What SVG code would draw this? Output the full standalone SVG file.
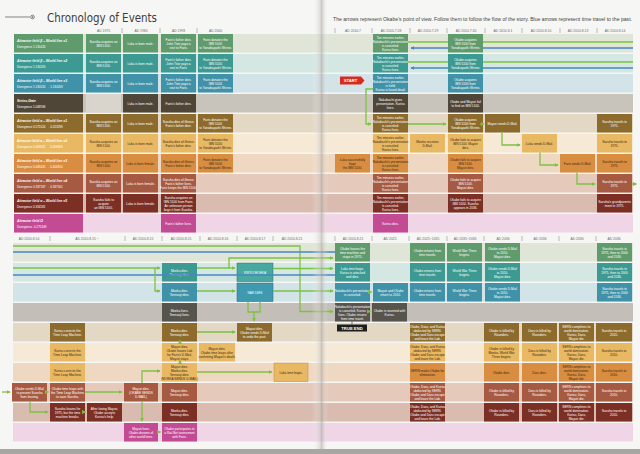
<svg xmlns="http://www.w3.org/2000/svg" width="640" height="454" viewBox="0 0 640 454">
<defs>
<linearGradient id="gut" x1="0" x2="1" y1="0" y2="0">
<stop offset="0" stop-color="#ffffff" stop-opacity="0"/>
<stop offset="0.5" stop-color="#c9c6c0" stop-opacity="0.5"/>
<stop offset="0.6" stop-color="#a7a49f" stop-opacity="0.55"/>
<stop offset="1" stop-color="#ffffff" stop-opacity="0"/>
</linearGradient>
<marker id="ag" viewBox="0 0 6 6" refX="5" refY="3" markerWidth="3.2" markerHeight="3.2" orient="auto"><path d="M0,0 L6,3 L0,6 z" fill="#7cc242"/></marker>
<marker id="ab" viewBox="0 0 6 6" refX="5" refY="3" markerWidth="3.2" markerHeight="3.2" orient="auto"><path d="M0,0 L6,3 L0,6 z" fill="#4a84c4"/></marker>
<style>
.t{font-family:"Liberation Sans",Arial,sans-serif;font-size:3.2px;text-anchor:middle;fill:#ffffff}
.k{fill:#3a2812}
.lb{font-family:"Liberation Sans",Arial,sans-serif;fill:#ffffff}
.l1{font-size:3.4px;font-style:italic;font-weight:bold}
.l2{font-size:3px}
.hd{font-family:"Liberation Sans",Arial,sans-serif;font-size:3.4px;fill:#6a6a6a;text-anchor:middle}
.tk{stroke:#7a7a7a;stroke-width:0.5}
.g{fill:none;stroke:#7cc242;stroke-width:1.3}
.b{fill:none;stroke:#4a84c4;stroke-width:1.3}
.r1{fill:#5f9b6d}.r2{fill:#3c9a93}.r3{fill:#3f92a7}.r4{fill:#4f4637}.r5{fill:#8d6b2d}
.r6{fill:#e8b862}.r7{fill:#d88d40}.r8{fill:#a65a42}.r9{fill:#7c2f24}.r10{fill:#c24b94}
.rg{fill:#57534d}
.b1{fill:#dfe5d7}.b2{fill:#d4e7e3}.b3{fill:#d2e4e8}.b4{fill:#c9c4bb}.b5{fill:#e3d8c4}
.b6{fill:#f6ead6}.b7{fill:#efd8c2}.b8{fill:#e5c9bb}.b9{fill:#d9bcaf}.b10{fill:#efd5e5}
</style>
</defs>

<rect x="0" y="0" width="640" height="454" fill="#f6f6f4"/>

<!-- row stripes, top half -->
<rect class="b1" x="14" y="34" width="619" height="18.5"/>
<rect class="b2" x="14" y="54" width="619" height="18.5"/>
<rect class="b3" x="14" y="74" width="619" height="18.5"/>
<rect class="b4" x="14" y="94" width="619" height="18.5"/>
<rect class="b5" x="14" y="114" width="619" height="18.5"/>
<rect class="b6" x="14" y="134" width="619" height="18.5"/>
<rect class="b7" x="14" y="154" width="619" height="18.5"/>
<rect class="b8" x="14" y="174" width="619" height="18.5"/>
<rect class="b9" x="14" y="194" width="619" height="18.5"/>
<rect class="b10" x="14" y="214" width="619" height="18.5"/>
<rect x="86" y="94" width="35" height="18.5" fill="#d9d5cd"/>
<!-- row stripes, bottom half -->
<rect class="b1" x="13" y="243" width="620" height="18.5"/>
<rect class="b2" x="13" y="263" width="620" height="18.5"/>
<rect class="b3" x="13" y="283" width="620" height="18.5"/>
<rect fill="#c3bfb8" x="13" y="303" width="620" height="18.5"/>
<rect class="b5" x="13" y="323" width="620" height="18.5"/>
<rect class="b6" x="13" y="343" width="620" height="18.5"/>
<rect class="b7" x="13" y="363" width="620" height="18.5"/>
<rect class="b8" x="13" y="383" width="620" height="18.5"/>
<rect class="b9" x="13" y="403" width="620" height="18.5"/>
<rect class="b10" x="13" y="423" width="620" height="18.5"/>

<!-- title and header -->
<g id="title">
<path d="M5,17 H30" stroke="#555" stroke-width="0.7"/>
<circle cx="32.5" cy="17" r="1.8" fill="none" stroke="#555" stroke-width="0.7"/>
<circle cx="32.5" cy="17" r="0.7" fill="#555"/>
<text x="47" y="22" font-family="DejaVu Sans,sans-serif" font-size="12.5" textLength="110" lengthAdjust="spacingAndGlyphs" fill="#3d3d3d">Chronology of Events</text>
</g>
<text x="333" y="21" font-family="Liberation Sans,Arial,sans-serif" font-size="4.6" fill="#444" textLength="299" lengthAdjust="spacingAndGlyphs">The arrows represent Okabe's point of view. Follow them to follow the flow of the story. Blue arrows represent time travel to the past.</text>

<g id="timeline-headers">
<path class="tk" d="M122,28 V33 M160,28 V33 M197,28 V33 M335,28 V33 M372,28 V33 M410,28 V33 M447,28 V33 M485,28 V33 M522,28 V33 M560,28 V33 M597,28 V33"/>
<text class="hd" x="103.5" y="31.5">AD 1975</text>
<text class="hd" x="141" y="31.5">AD 1984</text>
<text class="hd" x="178.5" y="31.5">AD 1998</text>
<text class="hd" x="215.5" y="31.5">AD 2000</text>
<text class="hd" x="353" y="31.5">AD 2010.7</text>
<text class="hd" x="391" y="31.5">AD 2010.7.28</text>
<text class="hd" x="428" y="31.5">AD 2010.7.29</text>
<text class="hd" x="466" y="31.5">AD 2010.7.30</text>
<text class="hd" x="503" y="31.5">AD 2010.8.1</text>
<text class="hd" x="541" y="31.5">AD 2010.8.10</text>
<text class="hd" x="578" y="31.5">AD 2010.8.13</text>
<text class="hd" x="615" y="31.5">AD 2010.8.14</text>
<path class="tk" d="M50,236 V241 M125,236 V241 M162,236 V241 M200,236 V241 M237,236 V241 M273,236 V241 M335,236 V241 M372,236 V241 M409,236 V241 M447,236 V241 M484,236 V241 M522,236 V241 M559,236 V241 M596,236 V241"/>
<text class="hd" x="29" y="239.5">AD 2010.8.14</text>
<text class="hd" x="87" y="239.5">AD 2010.8.15 ~</text>
<text class="hd" x="143" y="239.5">AD 2010.8.15</text>
<text class="hd" x="181" y="239.5">AD 2010.8.15</text>
<text class="hd" x="218" y="239.5">AD 2010.8.16</text>
<text class="hd" x="255" y="239.5">AD 2010.8.17</text>
<text class="hd" x="292" y="239.5">AD 2010.8.21</text>
<text class="hd" x="353" y="239.5">AD 2010.8.21</text>
<text class="hd" x="390" y="239.5">AD 2025</text>
<text class="hd" x="428" y="239.5">AD 2025~2035</text>
<text class="hd" x="465" y="239.5">AD 2035~2036</text>
<text class="hd" x="503" y="239.5">AD 2036</text>
<text class="hd" x="540" y="239.5">AD 2036</text>
<text class="hd" x="577" y="239.5">AD 2036</text>
<text class="hd" x="614" y="239.5">AD 2036</text>
</g>

<!-- row labels -->
<g id="label-beta-x1"><rect class="r1" x="14" y="34" width="69" height="18.5"/><text class="lb" x="17"><tspan class="l1" y="41.5">Attractor field β – World line x1</tspan><tspan class="l2" x="17" y="47.5">Divergence 1.130426</tspan></text></g>
<g id="label-beta-x2"><rect class="r2" x="14" y="54" width="69" height="18.5"/><text class="lb" x="17"><tspan class="l1" y="61.5">Attractor field β – World line x2</tspan><tspan class="l2" x="17" y="67.5">Divergence 1.130205</tspan></text></g>
<g id="label-beta-x3"><rect class="r3" x="14" y="74" width="69" height="18.5"/><text class="lb" x="17"><tspan class="l1" y="81.5">Attractor field β – World line x3</tspan><tspan class="l2" x="17" y="87.5">Divergence 1.130205 → 1.130209</tspan></text></g>
<g id="label-steins-gate"><rect class="r4" x="14" y="94" width="69" height="18.5"/><text class="lb" x="17"><tspan class="l1" y="101.5">Steins;Gate</tspan><tspan class="l2" x="17" y="107.5">Divergence 1.048596</tspan></text></g>
<g id="label-alpha-x1"><rect class="r5" x="14" y="114" width="69" height="18.5"/><text class="lb" x="17"><tspan class="l1" y="121.5">Attractor field α – World line x1</tspan><tspan class="l2" x="17" y="127.5">Divergence 0.571024 → 0.523299</tspan></text></g>
<g id="label-alpha-x2"><rect class="r6" x="14" y="134" width="69" height="18.5"/><text class="lb" x="17"><tspan class="l1" y="141.5">Attractor field α – World line x2</tspan><tspan class="l2" x="17" y="147.5">Divergence 0.409431 → 0.456903</tspan></text></g>
<g id="label-alpha-x3"><rect class="r7" x="14" y="154" width="69" height="18.5"/><text class="lb" x="17"><tspan class="l1" y="161.5">Attractor field α – World line x3</tspan><tspan class="l2" x="17" y="167.5">Divergence 0.409420 → 0.456914</tspan></text></g>
<g id="label-alpha-x4"><rect class="r8" x="14" y="174" width="69" height="18.5"/><text class="lb" x="17"><tspan class="l1" y="181.5">Attractor field α – World line x4</tspan><tspan class="l2" x="17" y="187.5">Divergence 0.337187 → 0.337161</tspan></text></g>
<g id="label-alpha-x5"><rect class="r9" x="14" y="194" width="69" height="18.5"/><text class="lb" x="17"><tspan class="l1" y="201.5">Attractor field α – World line x5</tspan><tspan class="l2" x="17" y="207.5">Divergence 0.334581</tspan></text></g>
<g id="label-omega"><rect class="r10" x="14" y="214" width="69" height="18.5"/><text class="lb" x="17"><tspan class="l1" y="221.5">Attractor field Ω</tspan><tspan class="l2" x="17" y="227.5">Divergence -0.275349</tspan></text></g>

<!-- top-left page nodes -->
<g id="tl-r1-a"><rect class="r1" x="86" y="34" width="35" height="18.5"/><text class="t" x="103.5" y="42.55">Suzuha acquires an<tspan x="103.5" dy="4">IBN 5100.</tspan></text></g>
<g id="tl-r1-b"><rect class="r1" x="123" y="34" width="35" height="18.5"/><text class="t" x="140.5" y="44.55">Luka is born male.</text></g>
<g id="tl-r1-c"><rect class="r1" x="161" y="34" width="35" height="18.5"/><text class="t" x="178.5" y="40.55">Faris's father dies.<tspan x="178.5" dy="4">John Titor pays a</tspan><tspan x="178.5" dy="4">visit to Faris.</tspan></text></g>
<g id="tl-r1-d"><rect class="r1" x="198" y="34" width="35" height="18.5"/><text class="t" x="215.5" y="40.55">Faris donates the<tspan x="215.5" dy="4">IBN 5100</tspan><tspan x="215.5" dy="4">to Yanabayashi Shrine.</tspan></text></g>

<g id="tl-r2-a"><rect class="r2" x="86" y="54" width="35" height="18.5"/><text class="t" x="103.5" y="62.55">Suzuha acquires an<tspan x="103.5" dy="4">IBN 5100.</tspan></text></g>
<g id="tl-r2-b"><rect class="r2" x="123" y="54" width="35" height="18.5"/><text class="t" x="140.5" y="64.55">Luka is born male.</text></g>
<g id="tl-r2-c"><rect class="r2" x="161" y="54" width="35" height="18.5"/><text class="t" x="178.5" y="60.55">Faris's father dies.<tspan x="178.5" dy="4">John Titor pays a</tspan><tspan x="178.5" dy="4">visit to Faris.</tspan></text></g>
<g id="tl-r2-d"><rect class="r2" x="198" y="54" width="35" height="18.5"/><text class="t" x="215.5" y="60.55">Faris donates the<tspan x="215.5" dy="4">IBN 5100</tspan><tspan x="215.5" dy="4">to Yanabayashi Shrine.</tspan></text></g>

<g id="tl-r3-a"><rect class="r3" x="86" y="74" width="35" height="18.5"/><text class="t" x="103.5" y="82.55">Suzuha acquires an<tspan x="103.5" dy="4">IBN 5100.</tspan></text></g>
<g id="tl-r3-b"><rect class="r3" x="123" y="74" width="35" height="18.5"/><text class="t" x="140.5" y="84.55">Luka is born male.</text></g>
<g id="tl-r3-c"><rect class="r3" x="161" y="74" width="35" height="18.5"/><text class="t" x="178.5" y="80.55">Faris's father dies.<tspan x="178.5" dy="4">John Titor pays a</tspan><tspan x="178.5" dy="4">visit to Faris.</tspan></text></g>
<g id="tl-r3-d"><rect class="r3" x="198" y="74" width="35" height="18.5"/><text class="t" x="215.5" y="80.55">Faris donates the<tspan x="215.5" dy="4">IBN 5100</tspan><tspan x="215.5" dy="4">to Yanabayashi Shrine.</tspan></text></g>

<g id="tl-r4-b"><rect class="r4" x="123" y="94" width="35" height="18.5"/><text class="t" x="140.5" y="104.55">Luka is born male.</text></g>
<g id="tl-r4-c"><rect class="r4" x="161" y="94" width="35" height="18.5"/><text class="t" x="178.5" y="104.55">Faris's father dies.</text></g>

<g id="tl-r5-a"><rect class="r5" x="86" y="114" width="35" height="18.5"/><text class="t" x="103.5" y="122.55">Suzuha acquires an<tspan x="103.5" dy="4">IBN 5100.</tspan></text></g>
<g id="tl-r5-b"><rect class="r5" x="123" y="114" width="35" height="18.5"/><text class="t" x="140.5" y="124.55">Luka is born male.</text></g>
<g id="tl-r5-c"><rect class="r5" x="161" y="114" width="35" height="18.5"/><text class="t" x="178.5" y="122.55">Suzuha dies of illness.<tspan x="178.5" dy="4">Faris's father dies.</tspan></text></g>
<g id="tl-r5-d"><rect class="r5" x="198" y="114" width="35" height="18.5"/><text class="t" x="215.5" y="120.55">Faris donates the<tspan x="215.5" dy="4">IBN 5100</tspan><tspan x="215.5" dy="4">to Yanabayashi Shrine.</tspan></text></g>

<g id="tl-r6-a"><rect class="r6" x="86" y="134" width="35" height="18.5"/><text class="t k" x="103.5" y="142.55">Suzuha acquires an<tspan x="103.5" dy="4">IBN 5100.</tspan></text></g>
<g id="tl-r6-b"><rect class="r6" x="123" y="134" width="35" height="18.5"/><text class="t k" x="140.5" y="144.55">Luka is born male.</text></g>
<g id="tl-r6-c"><rect class="r6" x="161" y="134" width="35" height="18.5"/><text class="t k" x="178.5" y="142.55">Suzuha dies of illness.<tspan x="178.5" dy="4">Faris's father dies.</tspan></text></g>
<g id="tl-r6-d"><rect class="r6" x="198" y="134" width="35" height="18.5"/><text class="t k" x="215.5" y="140.55">Faris donates the<tspan x="215.5" dy="4">IBN 5100</tspan><tspan x="215.5" dy="4">to Yanabayashi Shrine.</tspan></text></g>

<g id="tl-r7-a"><rect class="r7" x="86" y="154" width="35" height="18.5"/><text class="t k" x="103.5" y="162.55">Suzuha acquires an<tspan x="103.5" dy="4">IBN 5100.</tspan></text></g>
<g id="tl-r7-b"><rect class="r7" x="123" y="154" width="35" height="18.5"/><text class="t k" x="140.5" y="164.55">Luka is born female.</text></g>
<g id="tl-r7-c"><rect class="r7" x="161" y="154" width="35" height="18.5"/><text class="t k" x="178.5" y="162.55">Suzuha dies of illness.<tspan x="178.5" dy="4">Faris's father dies.</tspan></text></g>
<g id="tl-r7-d"><rect class="r7" x="198" y="154" width="35" height="18.5"/><text class="t k" x="215.5" y="160.55">Faris donates the<tspan x="215.5" dy="4">IBN 5100</tspan><tspan x="215.5" dy="4">to Yanabayashi Shrine.</tspan></text></g>

<g id="tl-r8-a"><rect class="r8" x="86" y="174" width="35" height="18.5"/><text class="t" x="103.5" y="182.55">Suzuha acquires an<tspan x="103.5" dy="4">IBN 5100.</tspan></text></g>
<g id="tl-r8-b"><rect class="r8" x="123" y="174" width="35" height="18.5"/><text class="t" x="140.5" y="184.55">Luka is born female.</text></g>
<g id="tl-r8-c"><rect class="r8" x="161" y="174" width="35" height="18.5"/><text class="t" x="178.5" y="180.55">Suzuha dies of illness.<tspan x="178.5" dy="4">Faris's father lives.</tspan><tspan x="178.5" dy="4">Faris keeps the IBN 5100.</tspan></text></g>

<g id="tl-r9-a"><rect class="r9" x="86" y="194" width="35" height="18.5"/><text class="t" x="103.5" y="200.55">Suzuha fails to<tspan x="103.5" dy="4">acquire</tspan><tspan x="103.5" dy="4">an IBN 5100.</tspan></text></g>
<g id="tl-r9-b"><rect class="r9" x="123" y="194" width="35" height="18.5"/><text class="t" x="140.5" y="204.55">Luka is born female.</text></g>
<g id="tl-r9-c"><rect class="r9" x="161" y="194" width="35" height="18.5"/><text class="t" x="178.5" y="198.55">Suzuha acquires an<tspan x="178.5" dy="4">IBN 5100 from Faris.</tspan><tspan x="178.5" dy="4">An unknown person</tspan><tspan x="178.5" dy="4">buys it from Suzuha.</tspan></text></g>

<g id="tl-r10-c"><rect class="r10" x="161" y="214" width="35" height="18.5"/><text class="t" x="178.5" y="224.55">Faris's father lives.</text></g>

<!-- top-right page nodes -->
<g id="start"><path d="M340,76.5 H361 L364.5,80.5 L361,84.5 H340 Z" fill="#d92a22"/><text x="350.5" y="82.1" font-family="Liberation Sans,Arial,sans-serif" font-size="4.2" font-weight="bold" fill="#fff" text-anchor="middle">START</text></g>

<g id="tr-r1-c2"><rect class="r1" x="373" y="34" width="35" height="18.5"/><text class="t" x="390.5" y="38.55">Ten minutes earlier,<tspan x="390.5" dy="4">Nakabachi's presentation</tspan><tspan x="390.5" dy="4">is canceled.</tspan><tspan x="390.5" dy="4">Kurisu lives.</tspan></text></g>
<g id="tr-r1-c4"><rect class="r1" x="448" y="34" width="35" height="18.5"/><text class="t" x="465.5" y="40.55">Okabe acquires<tspan x="465.5" dy="4">IBN 5100 from</tspan><tspan x="465.5" dy="4">Yanabayashi Shrine.</tspan></text></g>
<g id="tr-r2-c2"><rect class="r2" x="373" y="54" width="35" height="18.5"/><text class="t" x="390.5" y="58.55">Ten minutes earlier,<tspan x="390.5" dy="4">Nakabachi's presentation</tspan><tspan x="390.5" dy="4">is canceled.</tspan><tspan x="390.5" dy="4">Kurisu lives.</tspan></text></g>
<g id="tr-r2-c4"><rect class="r2" x="448" y="54" width="35" height="18.5"/><text class="t" x="465.5" y="60.55">Okabe acquires<tspan x="465.5" dy="4">IBN 5100 from</tspan><tspan x="465.5" dy="4">Yanabayashi Shrine.</tspan></text></g>
<g id="tr-r3-c2"><rect class="r3" x="373" y="74" width="35" height="18.5"/><text class="t" x="390.5" y="78.55">Ten minutes earlier,<tspan x="390.5" dy="4">Nakabachi's presentation</tspan><tspan x="390.5" dy="4">is held.</tspan><tspan x="390.5" dy="4">Kurisu is found dead.</tspan></text></g>
<g id="tr-r3-c4"><rect class="r3" x="448" y="74" width="35" height="18.5"/><text class="t" x="465.5" y="80.55">Okabe acquires<tspan x="465.5" dy="4">IBN 5100 from</tspan><tspan x="465.5" dy="4">Yanabayashi Shrine.</tspan></text></g>
<g id="tr-r4-c2"><rect class="r4" x="373" y="94" width="35" height="18.5"/><text class="t" x="390.5" y="100.55">Nakabachi gives<tspan x="390.5" dy="4">presentation. Kurisu</tspan><tspan x="390.5" dy="4">lives.</tspan></text></g>
<g id="tr-r4-c4"><rect class="r4" x="448" y="94" width="35" height="18.5"/><text class="t" x="465.5" y="102.55">Okabe and Mayuri fail<tspan x="465.5" dy="4">to find an IBN 5100.</tspan></text></g>
<g id="tr-r5-c2"><rect class="r5" x="373" y="114" width="35" height="18.5"/><text class="t" x="390.5" y="118.55">Ten minutes earlier,<tspan x="390.5" dy="4">Nakabachi's presentation</tspan><tspan x="390.5" dy="4">is canceled.</tspan><tspan x="390.5" dy="4">Kurisu lives.</tspan></text></g>
<g id="tr-r5-c4"><rect class="r5" x="448" y="114" width="35" height="18.5"/><text class="t" x="465.5" y="120.55">Okabe acquires<tspan x="465.5" dy="4">IBN 5100 from</tspan><tspan x="465.5" dy="4">Yanabayashi Shrine.</tspan></text></g>
<g id="tr-r5-c5"><rect class="r5" x="485" y="114" width="35" height="18.5"/><text class="t" x="502.5" y="124.55">Mayuri sends D-Mail.</text></g>
<g id="tr-r5-c8"><rect class="r5" x="597" y="114" width="35" height="18.5"/><text class="t" x="614.5" y="122.55">Suzuha travels to<tspan x="614.5" dy="4">1975.</tspan></text></g>
<g id="tr-r6-c2"><rect class="r6" x="373" y="134" width="35" height="18.5"/><text class="t k" x="390.5" y="138.55">Ten minutes earlier,<tspan x="390.5" dy="4">Nakabachi's presentation</tspan><tspan x="390.5" dy="4">is canceled.</tspan><tspan x="390.5" dy="4">Kurisu lives.</tspan></text></g>
<g id="tr-r6-c3"><rect class="r6" x="410" y="134" width="35" height="18.5"/><text class="t k" x="427.5" y="142.55">Moeka receives<tspan x="427.5" dy="4">D-Mail.</tspan></text></g>
<g id="tr-r6-c4"><rect class="r6" x="448" y="134" width="35" height="18.5"/><text class="t k" x="465.5" y="140.55">Okabe fails to acquire<tspan x="465.5" dy="4">IBN 5100. Mayuri</tspan><tspan x="465.5" dy="4">dies.</tspan></text></g>
<g id="tr-r6-c6"><rect class="r6" x="522" y="134" width="35" height="18.5"/><text class="t k" x="539.5" y="144.55">Luka sends D-Mail.</text></g>
<g id="tr-r6-c8"><rect class="r6" x="597" y="134" width="35" height="18.5"/><text class="t k" x="614.5" y="142.55">Suzuha travels to<tspan x="614.5" dy="4">1975.</tspan></text></g>
<g id="tr-r7-c1"><rect class="r7" x="335" y="154" width="35" height="18.5"/><text class="t k" x="352.5" y="160.55">Luka successfully<tspan x="352.5" dy="4">buys</tspan><tspan x="352.5" dy="4">the IBN 5100.</tspan></text></g>
<g id="tr-r7-c2"><rect class="r7" x="373" y="154" width="35" height="18.5"/><text class="t k" x="390.5" y="158.55">Ten minutes earlier,<tspan x="390.5" dy="4">Nakabachi's presentation</tspan><tspan x="390.5" dy="4">is canceled.</tspan><tspan x="390.5" dy="4">Kurisu lives.</tspan></text></g>
<g id="tr-r7-c4"><rect class="r7" x="448" y="154" width="35" height="18.5"/><text class="t k" x="465.5" y="160.55">Okabe fails to acquire<tspan x="465.5" dy="4">IBN 5100.</tspan><tspan x="465.5" dy="4">Mayuri dies.</tspan></text></g>
<g id="tr-r7-c7"><rect class="r7" x="560" y="154" width="35" height="18.5"/><text class="t k" x="577.5" y="164.55">Faris sends D-Mail.</text></g>
<g id="tr-r7-c8"><rect class="r7" x="597" y="154" width="35" height="18.5"/><text class="t k" x="614.5" y="162.55">Suzuha travels to<tspan x="614.5" dy="4">1975.</tspan></text></g>
<g id="tr-r8-c2"><rect class="r8" x="373" y="174" width="35" height="18.5"/><text class="t" x="390.5" y="178.55">Ten minutes earlier,<tspan x="390.5" dy="4">Nakabachi's presentation</tspan><tspan x="390.5" dy="4">is canceled.</tspan><tspan x="390.5" dy="4">Kurisu lives.</tspan></text></g>
<g id="tr-r8-c4"><rect class="r8" x="448" y="174" width="35" height="18.5"/><text class="t" x="465.5" y="180.55">Okabe fails to acquire<tspan x="465.5" dy="4">IBN 5100.</tspan><tspan x="465.5" dy="4">Mayuri dies.</tspan></text></g>
<g id="tr-r8-c8"><rect class="r8" x="597" y="174" width="35" height="18.5"/><text class="t" x="614.5" y="182.55">Suzuha travels to<tspan x="614.5" dy="4">1975.</tspan></text></g>
<g id="tr-r9-c2"><rect class="r9" x="373" y="194" width="35" height="18.5"/><text class="t" x="390.5" y="198.55">Ten minutes earlier,<tspan x="390.5" dy="4">Nakabachi's presentation</tspan><tspan x="390.5" dy="4">is canceled.</tspan><tspan x="390.5" dy="4">Kurisu lives.</tspan></text></g>
<g id="tr-r9-c4"><rect class="r9" x="448" y="194" width="35" height="18.5"/><text class="t" x="465.5" y="200.55">Okabe fails to acquire<tspan x="465.5" dy="4">IBN 5100. Suzuha</tspan><tspan x="465.5" dy="4">appears in 2036.</tspan></text></g>
<g id="tr-r9-c8"><rect class="r9" x="597" y="194" width="35" height="18.5"/><text class="t" x="614.5" y="202.55">Suzuha's grandparents<tspan x="614.5" dy="4">meet in 1975.</tspan></text></g>
<g id="tr-r10-c2"><rect class="r10" x="373" y="214" width="35" height="18.5"/><text class="t" x="390.5" y="224.55">Kurisu dies.</text></g>

<!-- bottom-left page nodes -->
<g id="bl-r2-b5"><rect class="r2" x="162" y="263" width="35" height="18.5"/><text class="t" x="179.5" y="271.55">Moeka dies.<tspan x="179.5" dy="4">Tennouji dies.</tspan></text></g>
<g id="bl-r2-b7"><rect fill="#47a9a0" stroke="#2d6e68" stroke-width="0.5" x="237" y="263" width="36" height="18.5"/><text class="t" x="255" y="273.55">KIRYU MOEKA</text></g>
<g id="bl-r3-b5"><rect class="r3" x="162" y="283" width="35" height="18.5"/><text class="t" x="179.5" y="291.55">Moeka dies.<tspan x="179.5" dy="4">Tennouji dies.</tspan></text></g>
<g id="bl-r3-b7"><rect fill="#3f9ab0" stroke="#2a6574" stroke-width="0.5" x="237" y="283" width="36" height="18.5"/><text class="t" x="255" y="293.55">NAE DIES</text></g>
<g id="bl-r4-b5"><rect class="rg" x="162" y="303" width="35" height="18.5"/><text class="t" x="179.5" y="311.55">Moeka lives.<tspan x="179.5" dy="4">Tennouji lives.</tspan></text></g>

<g id="bl-r5-b2"><rect class="r5" x="50" y="323" width="35" height="18.5"/><text class="t" x="67.5" y="331.55">Kurisu corrects the<tspan x="67.5" dy="4">Time Leap Machine.</tspan></text></g>
<g id="bl-r5-b5"><rect class="r5" x="162" y="323" width="35" height="18.5"/><text class="t" x="179.5" y="331.55">Moeka dies.<tspan x="179.5" dy="4">Tennouji dies.</tspan></text></g>
<g id="bl-r5-b7"><rect class="r5" x="237" y="323" width="35" height="18.5"/><text class="t" x="254.5" y="329.55">Mayuri dies.<tspan x="254.5" dy="4">Okabe sends D-Mail</tspan><tspan x="254.5" dy="4">to undo the past.</tspan></text></g>

<g id="bl-r6-b2"><rect class="r6" x="50" y="343" width="35" height="18.5"/><text class="t k" x="67.5" y="351.55">Kurisu corrects the<tspan x="67.5" dy="4">Time Leap Machine.</tspan></text></g>
<g id="bl-r6-b5"><rect class="r6" x="162" y="343" width="35" height="18.5"/><text class="t k" x="179.5" y="347.55">Mayuri dies.<tspan x="179.5" dy="4">Okabe leaves Lab</tspan><tspan x="179.5" dy="4">for Faris's D-Mail.</tspan><tspan x="179.5" dy="4">Mayuri stays.</tspan></text></g>
<g id="bl-r6-b6"><rect class="r6" x="199" y="343" width="36" height="18.5"/><text class="t k" x="217" y="349.55">Mayuri dies.<tspan x="217" dy="4">Okabe time leaps after</tspan><tspan x="217" dy="4">confirming Mayuri's death.</tspan></text></g>

<g id="bl-r7-b2"><rect class="r6" x="50" y="363" width="35" height="18.5"/><text class="t k" x="67.5" y="371.55">Kurisu corrects the<tspan x="67.5" dy="4">Time Leap Machine.</tspan></text></g>
<g id="bl-r7-b5"><rect class="r6" x="162" y="363" width="35" height="18.5"/><text class="t k" x="179.5" y="367.55">Mayuri dies.<tspan x="179.5" dy="4">Moeka dies.</tspan><tspan x="179.5" dy="4">Tennouji dies.</tspan><tspan x="179.5" dy="4">(MOEKA SENDS D-MAIL)</tspan></text></g>
<g id="bl-r7-b8"><rect class="r6" x="274" y="363" width="34" height="18.5" stroke="#b88a3a" stroke-width="0.5"/><text class="t k" x="291" y="373.55">Luka time leaps.</text></g>

<g id="bl-r8-b1"><rect class="r8" x="12" y="383" width="35" height="18.5"/><text class="t" x="29.5" y="389.55">Okabe sends D-Mail<tspan x="29.5" dy="4">to prevent Suzuha</tspan><tspan x="29.5" dy="4">from leaving.</tspan></text></g>
<g id="bl-r8-b2"><rect class="r8" x="50" y="383" width="35" height="18.5"/><text class="t" x="67.5" y="389.55">Okabe time leaps with<tspan x="67.5" dy="4">the Time Leap Machine</tspan><tspan x="67.5" dy="4">to save Suzuha.</tspan></text></g>
<g id="bl-r8-b4"><rect class="r8" x="124" y="383" width="34" height="18.5"/><text class="t" x="141" y="389.55">Mayuri dies.<tspan x="141" dy="4">(OKABE SENDS</tspan><tspan x="141" dy="4">D-MAIL)</tspan></text></g>
<g id="bl-r8-b5"><rect class="r8" x="162" y="383" width="35" height="18.5"/><text class="t" x="179.5" y="391.55">Mayuri dies.<tspan x="179.5" dy="4">Tennouji dies.</tspan></text></g>

<g id="bl-r9-b2"><rect class="r9" x="50" y="403" width="35" height="18.5"/><text class="t" x="67.5" y="409.55">Suzuha leaves for<tspan x="67.5" dy="4">1975, but the time</tspan><tspan x="67.5" dy="4">machine breaks.</tspan></text></g>
<g id="bl-r9-b3"><rect class="r9" x="87" y="403" width="35" height="18.5"/><text class="t" x="104.5" y="409.55">After losing Mayuri,<tspan x="104.5" dy="4">Okabe accepts</tspan><tspan x="104.5" dy="4">Kurisu's help.</tspan></text></g>
<g id="bl-r9-b5"><rect class="r9" x="162" y="403" width="35" height="18.5"/><text class="t" x="179.5" y="411.55">Moeka dies.<tspan x="179.5" dy="4">Tennouji dies.</tspan></text></g>

<g id="bl-r10-b4"><rect class="r10" x="124" y="423" width="34" height="18.5"/><text class="t" x="141" y="429.55">Mayuri lives.<tspan x="141" dy="4">Okabe dreams of</tspan><tspan x="141" dy="4">other world lines.</tspan></text></g>
<g id="bl-r10-b5"><rect class="r10" x="162" y="423" width="35" height="18.5"/><text class="t" x="179.5" y="429.55">Okabe participates in<tspan x="179.5" dy="4">a Rai-Net tournament</tspan><tspan x="179.5" dy="4">with Faris.</tspan></text></g>

<!-- bottom-right page nodes -->
<g id="br-r1-c1"><rect class="r1" x="335" y="243" width="35" height="18.5"/><text class="t" x="352.5" y="249.55">Okabe leaves the<tspan x="352.5" dy="4">time machine and</tspan><tspan x="352.5" dy="4">stays in 1975.</tspan></text></g>
<g id="br-r1-c3"><rect class="r1" x="410" y="243" width="35" height="18.5"/><text class="t" x="427.5" y="251.55">Okabe returns from<tspan x="427.5" dy="4">time travels.</tspan></text></g>
<g id="br-r1-c4"><rect class="r1" x="447" y="243" width="35" height="18.5"/><text class="t" x="464.5" y="251.55">World War Three<tspan x="464.5" dy="4">begins.</tspan></text></g>
<g id="br-r1-c5"><rect class="r1" x="485" y="243" width="35" height="18.5"/><text class="t" x="502.5" y="249.55">Okabe sends D-Mail<tspan x="502.5" dy="4">to 2010.</tspan><tspan x="502.5" dy="4">Mayuri dies.</tspan></text></g>
<g id="br-r1-c8"><rect class="r1" x="597" y="243" width="35" height="18.5"/><text class="t" x="614.5" y="249.55">Suzuha travels to<tspan x="614.5" dy="4">1975, then to 2000</tspan><tspan x="614.5" dy="4">and 2036.</tspan></text></g>

<g id="br-r2-c1"><rect class="r2" x="335" y="263" width="35" height="18.5"/><text class="t" x="352.5" y="269.55">Luka time leaps.<tspan x="352.5" dy="4">Kurisu is attacked</tspan><tspan x="352.5" dy="4">and dies.</tspan></text></g>
<g id="br-r2-c3"><rect class="r2" x="410" y="263" width="35" height="18.5"/><text class="t" x="427.5" y="271.55">Okabe returns from<tspan x="427.5" dy="4">time travels.</tspan></text></g>
<g id="br-r2-c4"><rect class="r2" x="447" y="263" width="35" height="18.5"/><text class="t" x="464.5" y="271.55">World War Three<tspan x="464.5" dy="4">begins.</tspan></text></g>
<g id="br-r2-c5"><rect class="r2" x="485" y="263" width="35" height="18.5"/><text class="t" x="502.5" y="269.55">Okabe sends D-Mail<tspan x="502.5" dy="4">to 2010.</tspan><tspan x="502.5" dy="4">Mayuri dies.</tspan></text></g>
<g id="br-r2-c8"><rect class="r2" x="597" y="263" width="35" height="18.5"/><text class="t" x="614.5" y="269.55">Suzuha travels to<tspan x="614.5" dy="4">1975, then to 2000</tspan><tspan x="614.5" dy="4">and 2036.</tspan></text></g>

<g id="br-r3-c1"><rect class="r3" x="335" y="283" width="35" height="18.5"/><text class="t" x="352.5" y="291.55">Nakabachi's presentation<tspan x="352.5" dy="4">is canceled.</tspan></text></g>
<g id="br-r3-c2"><rect class="r3" x="373" y="283" width="35" height="18.5"/><text class="t" x="390.5" y="291.55">Mayuri and Okabe<tspan x="390.5" dy="4">return to 2010.</tspan></text></g>
<g id="br-r3-c3"><rect class="r3" x="410" y="283" width="35" height="18.5"/><text class="t" x="427.5" y="291.55">Okabe returns from<tspan x="427.5" dy="4">time travels.</tspan></text></g>
<g id="br-r3-c4"><rect class="r3" x="447" y="283" width="35" height="18.5"/><text class="t" x="464.5" y="291.55">World War Three<tspan x="464.5" dy="4">begins.</tspan></text></g>
<g id="br-r3-c5"><rect class="r3" x="485" y="283" width="35" height="18.5"/><text class="t" x="502.5" y="289.55">Okabe sends D-Mail<tspan x="502.5" dy="4">to 2010.</tspan><tspan x="502.5" dy="4">Mayuri dies.</tspan></text></g>
<g id="br-r3-c8"><rect class="r3" x="597" y="283" width="35" height="18.5"/><text class="t" x="614.5" y="289.55">Suzuha travels to<tspan x="614.5" dy="4">1975, then to 2000</tspan><tspan x="614.5" dy="4">and 2036.</tspan></text></g>

<g id="br-r4-c1"><rect class="rg" x="335" y="303" width="35" height="18.5"/><text class="t" x="352.5" y="307.55">Nakabachi's presentation<tspan x="352.5" dy="4">is canceled. Kurisu</tspan><tspan x="352.5" dy="4">lives. Okabe returns</tspan><tspan x="352.5" dy="4">from time travel.</tspan></text></g>
<g id="br-r4-c2"><rect class="rg" x="372" y="303" width="35" height="18.5"/><text class="t" x="389.5" y="311.55">Okabe is reunited with<tspan x="389.5" dy="4">Kurisu.</tspan></text></g>
<g id="true-end"><rect x="337" y="324.5" width="30" height="7" fill="#1e1e1e"/><text x="352" y="329.6" font-family="Liberation Sans,Arial,sans-serif" font-size="4.2" font-weight="bold" fill="#fff" text-anchor="middle">TRUE END</text></g>

<g id="br-r5-c3"><rect class="r5" x="410" y="323" width="35" height="18.5"/><text class="t" x="427.5" y="327.55">Okabe, Daru, and Kurisu<tspan x="427.5" dy="4">abducted by SERN.</tspan><tspan x="427.5" dy="4">Okabe and Daru escape</tspan><tspan x="427.5" dy="4">and leave the Lab.</tspan></text></g>
<g id="br-r5-c5"><rect class="r5" x="484" y="323" width="35" height="18.5"/><text class="t" x="501.5" y="331.55">Okabe is killed by<tspan x="501.5" dy="4">Rounders.</tspan></text></g>
<g id="br-r5-c6"><rect class="r5" x="522" y="323" width="35" height="18.5"/><text class="t" x="539.5" y="331.55">Daru is killed by<tspan x="539.5" dy="4">Rounders.</tspan></text></g>
<g id="br-r5-c7"><rect class="r5" x="559" y="323" width="35" height="18.5"/><text class="t" x="576.5" y="327.55">SERN completes its<tspan x="576.5" dy="4">world domination.</tspan><tspan x="576.5" dy="4">Kurisu, Daru,</tspan><tspan x="576.5" dy="4">Mayuri die.</tspan></text></g>
<g id="br-r5-c8"><rect class="r5" x="596" y="323" width="36" height="18.5"/><text class="t" x="614" y="331.55">Suzuha travels to<tspan x="614" dy="4">2010.</tspan></text></g>

<g id="br-r6-c3"><rect class="r6" x="410" y="343" width="35" height="18.5"/><text class="t k" x="427.5" y="347.55">Okabe, Daru, and Kurisu<tspan x="427.5" dy="4">abducted by SERN.</tspan><tspan x="427.5" dy="4">Okabe and Daru escape</tspan><tspan x="427.5" dy="4">and leave the Lab.</tspan></text></g>
<g id="br-r6-c5"><rect class="r6" x="484" y="343" width="35" height="18.5"/><text class="t k" x="501.5" y="349.55">Okabe is killed by<tspan x="501.5" dy="4">Moeka. World War</tspan><tspan x="501.5" dy="4">Three begins.</tspan></text></g>
<g id="br-r6-c6"><rect class="r6" x="522" y="343" width="35" height="18.5"/><text class="t k" x="539.5" y="351.55">Daru is killed by<tspan x="539.5" dy="4">Rounders.</tspan></text></g>
<g id="br-r6-c7"><rect class="r6" x="559" y="343" width="35" height="18.5"/><text class="t k" x="576.5" y="347.55">SERN completes its<tspan x="576.5" dy="4">world domination.</tspan><tspan x="576.5" dy="4">Kurisu, Daru,</tspan><tspan x="576.5" dy="4">Mayuri die.</tspan></text></g>
<g id="br-r6-c8"><rect class="r6" x="596" y="343" width="36" height="18.5"/><text class="t k" x="614" y="351.55">Suzuha travels to<tspan x="614" dy="4">2010.</tspan></text></g>

<g id="br-r7-c3"><rect class="r7" x="410" y="363" width="35" height="18.5"/><text class="t k" x="427.5" y="371.55">SERN marks Okabe for<tspan x="427.5" dy="4">elimination.</tspan></text></g>
<g id="br-r7-c5"><rect class="r7" x="484" y="363" width="35" height="18.5"/><text class="t k" x="501.5" y="373.55">Okabe dies.</text></g>
<g id="br-r7-c6"><rect class="r7" x="522" y="363" width="35" height="18.5"/><text class="t k" x="539.5" y="373.55">Daru dies.</text></g>
<g id="br-r7-c7"><rect class="r7" x="559" y="363" width="35" height="18.5"/><text class="t k" x="576.5" y="367.55">SERN completes its<tspan x="576.5" dy="4">world domination.</tspan><tspan x="576.5" dy="4">Kurisu, Daru,</tspan><tspan x="576.5" dy="4">Mayuri die.</tspan></text></g>
<g id="br-r7-c8"><rect class="r7" x="596" y="363" width="36" height="18.5"/><text class="t k" x="614" y="371.55">Suzuha travels to<tspan x="614" dy="4">2010.</tspan></text></g>

<g id="br-r8-c3"><rect class="r8" x="410" y="383" width="35" height="18.5"/><text class="t" x="427.5" y="387.55">Okabe, Daru, and Kurisu<tspan x="427.5" dy="4">abducted by SERN.</tspan><tspan x="427.5" dy="4">Okabe and Daru escape</tspan><tspan x="427.5" dy="4">and leave the Lab.</tspan></text></g>
<g id="br-r8-c5"><rect class="r8" x="484" y="383" width="35" height="18.5"/><text class="t" x="501.5" y="391.55">Okabe is killed by<tspan x="501.5" dy="4">Rounders.</tspan></text></g>
<g id="br-r8-c6"><rect class="r8" x="522" y="383" width="35" height="18.5"/><text class="t" x="539.5" y="391.55">Daru is killed by<tspan x="539.5" dy="4">Rounders.</tspan></text></g>
<g id="br-r8-c7"><rect class="r8" x="559" y="383" width="35" height="18.5"/><text class="t" x="576.5" y="387.55">SERN completes its<tspan x="576.5" dy="4">world domination.</tspan><tspan x="576.5" dy="4">Kurisu, Daru,</tspan><tspan x="576.5" dy="4">Mayuri die.</tspan></text></g>
<g id="br-r8-c8"><rect class="r8" x="596" y="383" width="36" height="18.5"/><text class="t" x="614" y="391.55">Suzuha travels to<tspan x="614" dy="4">2010.</tspan></text></g>

<g id="br-r9-c3"><rect class="r9" x="410" y="403" width="35" height="18.5"/><text class="t" x="427.5" y="407.55">Okabe, Daru, and Kurisu<tspan x="427.5" dy="4">abducted by SERN.</tspan><tspan x="427.5" dy="4">Okabe and Daru escape</tspan><tspan x="427.5" dy="4">and leave the Lab.</tspan></text></g>
<g id="br-r9-c5"><rect class="r9" x="484" y="403" width="35" height="18.5"/><text class="t" x="501.5" y="411.55">Okabe is killed by<tspan x="501.5" dy="4">Rounders.</tspan></text></g>
<g id="br-r9-c6"><rect class="r9" x="522" y="403" width="35" height="18.5"/><text class="t" x="539.5" y="411.55">Daru is killed by<tspan x="539.5" dy="4">Rounders.</tspan></text></g>
<g id="br-r9-c7"><rect class="r9" x="559" y="403" width="35" height="18.5"/><text class="t" x="576.5" y="407.55">SERN completes its<tspan x="576.5" dy="4">world domination.</tspan><tspan x="576.5" dy="4">Kurisu, Daru,</tspan><tspan x="576.5" dy="4">Mayuri die.</tspan></text></g>
<g id="br-r9-c8"><rect class="r9" x="596" y="403" width="36" height="18.5"/><text class="t" x="614" y="411.55">Suzuha travels to<tspan x="614" dy="4">2010.</tspan></text></g>

<!-- connectors -->
<g id="connectors">
<path class="g" d="M408,42 H448"/>
<path class="g" d="M483,42 H633"/>
<path class="b" d="M633,48 H483"/>
<path class="b" d="M448,48 H411" marker-end="url(#ab)"/>
<path class="g" d="M408,62 H448"/>
<path class="g" d="M483,62 H633"/>
<path class="b" d="M633,68 H483"/>
<path class="b" d="M448,68 H411" marker-end="url(#ab)"/>
<path class="g" d="M373,89 H366 V124 H371" marker-end="url(#ag)"/>
<path class="g" d="M408,124 H446" marker-end="url(#ag)"/>
<path class="g" d="M480,124 H484" marker-end="url(#ag)"/>
<path class="g" d="M502,132.5 V145 H520" marker-end="url(#ag)"/>
<path class="g" d="M540,152.5 V165 H558" marker-end="url(#ag)"/>
<path class="g" d="M577,172.5 V184 H595" marker-end="url(#ag)"/>
<path class="g" d="M632,184 H636.5" marker-end="url(#ag)"/>

<path class="g" d="M13,246 H300 V311.5 H333" marker-end="url(#ag)"/>
<path class="b" d="M13,252 H335"/>
<path class="g" d="M197,268 H229 V258 H333" marker-end="url(#ag)"/>
<path class="g" d="M13,268 H160" marker-end="url(#ag)"/>
<path class="g" d="M229,268 H235" marker-end="url(#ag)"/>
<path class="g" d="M273,268.5 H333" marker-end="url(#ag)"/>
<path class="b" d="M13,275 H335"/>
<path class="g" d="M155,268 V291 H160" marker-end="url(#ag)"/>
<path class="g" d="M197,291 H235" marker-end="url(#ag)"/>
<path class="g" d="M273,291 H333" marker-end="url(#ag)"/>
<path class="g" d="M370,292 H371.5" marker-end="url(#ag)"/>
<path class="g" d="M248,301.5 V312 H260 V301.5"/>
<path class="g" d="M254,312 V321" marker-end="url(#ag)"/>
<path class="g" d="M369.5,311.5 H370.5" marker-end="url(#ag)"/>
<path d="M352,321.5 V324.5" stroke="#222" stroke-width="0.6"/>
<path class="g" d="M197,332 H235" marker-end="url(#ag)"/>
<path class="g" d="M180,363 V360.5" marker-end="url(#ag)"/>
<path class="g" d="M180,343 V340.5" marker-end="url(#ag)"/>
<path class="g" d="M197,372 H272" marker-end="url(#ag)"/>
<path class="g" d="M2,392 H10" marker-end="url(#ag)"/>
<path class="g" d="M46.5,392 H48.5" marker-end="url(#ag)"/>
<path class="g" d="M85,392 H122" marker-end="url(#ag)"/>
<path class="g" d="M142,383 V371 H160" marker-end="url(#ag)"/>
<path class="g" d="M142,401.5 V421" marker-end="url(#ag)"/>
<path class="g" d="M30,401.5 V412 H48" marker-end="url(#ag)"/>
<path class="g" d="M84.5,412 H85.5" marker-end="url(#ag)"/>
<path class="g" d="M157.5,432 H160.5" marker-end="url(#ag)"/>
</g>

<!-- page gutter and scan edge -->
<rect x="312" y="0" width="16" height="454" fill="url(#gut)"/>
<rect x="0" y="449" width="640" height="5" fill="#a9a7a3"/>
</svg>
